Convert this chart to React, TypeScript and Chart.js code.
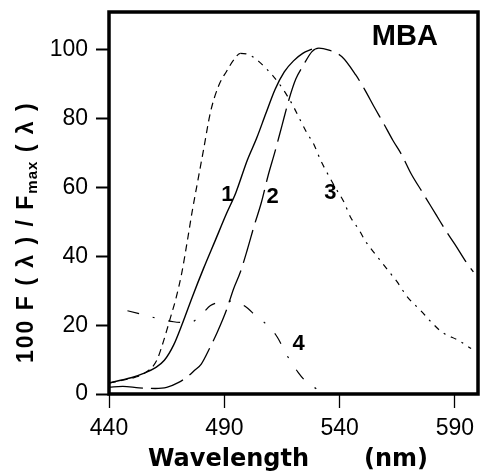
import React, { useEffect, useRef } from "react";
import { Chart, registerables } from "chart.js";

Chart.register(...registerables);

// ---- axis set-up ----
const xTickValues = [440, 490, 540, 590];
const yTickValues = [0, 20, 40, 60, 80, 100];
const xMin = 440;
const xMax = 600;
const yMin = 0;
const yMax = 111;

// ---- curve 1 (solid) ----
const curve1X = [440, 445, 450, 455, 460, 464, 468, 472, 476, 481, 486, 491, 495, 500, 504, 508, 512, 516, 520, 524, 528];
const curve1Y = [3.2, 4.0, 4.8, 6.0, 7.6, 9.8, 14.2, 20.8, 28, 36.5, 44.5, 52.5, 58.5, 68, 74.3, 81.5, 88.5, 93.6, 96.8, 99, 100.2];

// ---- curve 2 (long dash) ----
const curve2X = [440, 446, 453, 460, 465, 470, 474, 477, 480, 484, 487, 491, 494, 497, 500, 503, 506, 509, 512, 515, 518, 521, 524, 528, 531, 535, 541, 547, 551, 555, 559, 563, 567, 571, 576, 582, 586, 590, 595, 598];
const curve2Y = [2, 2.2, 1.8, 1.6, 1.9, 3.3, 5, 6.8, 8.7, 13.8, 18, 24.5, 30.5, 35.5, 42, 49, 55.5, 63.5, 70.5, 78, 85.5, 91.5, 95.2, 99.5, 100.5, 100, 98, 92.7, 88.3, 83.4, 78.7, 73.8, 69.4, 64, 58.5, 51.9, 47.5, 43.5, 38.2, 35.5];

// ---- curve 3 (short dash rising, dash-dot falling) ----
const curve3X = [440, 446, 452, 456, 459, 461, 463, 465, 467, 469, 471.5, 474, 476, 478.3, 481, 484, 487.5, 491, 494, 497, 501, 506, 511, 515, 519.6, 522.6, 525.7, 529, 531.7, 534.8, 538.3, 541.7, 544.8, 548.3, 551.3, 556, 560.4, 564.8, 569.6, 574.8, 579.6, 584.3, 591.7, 597];
const curve3Y = [3.2, 4, 5, 6.3, 8, 10.2, 14, 18.4, 23, 27.7, 35, 44.6, 52.8, 61.2, 71, 81.9, 89.5, 93.8, 97, 99, 98.5, 96, 92.5, 89, 84, 80, 76, 72.3, 68, 64, 59.8, 56, 51.3, 47.8, 44.3, 40.2, 36.4, 32.7, 28, 24.5, 21, 18, 15.5, 13.2];
const curve3PeakX = 497;

// ---- curve 4 (dash-dot-dot) ----
const curve4X = [448, 455, 462, 468, 475, 480, 484, 489, 494, 499, 504, 509, 513, 517, 522, 526, 530];
const curve4Y = [24.2, 23, 21.8, 21, 20.7, 23, 25.7, 26.8, 27, 25.5, 22.5, 19.8, 16.5, 11.4, 6.3, 3.2, 1.5];

// ---- in-plot labels ----
const curveLabels = ["1", "2", "3", "4"];
const curveLabelX = [491.3, 510.9, 536, 522.2];
const curveLabelY = [57.7, 57.4, 58.3, 14.6];
const panelLabel = "MBA";
const panelLabelX = 568.3;
const panelLabelY = 103.8;

const xTitleWord = "Wavelength";
const xTitleUnit = "(nm)";
const yTitleMain = "100 F ( λ ) / F";
const yTitleSub = "max";
const yTitleEnd = " ( λ )";

const pairs = (xs: number[], ys: number[]) => xs.map((x, i) => ({ x, y: ys[i] }));

const annotate = {
  id: "annotate",
  afterDraw(chart: any) {
    const { ctx, chartArea: a, scales } = chart;
    ctx.save();
    // frame
    ctx.strokeStyle = "#000";
    ctx.lineWidth = 3.5;
    ctx.strokeRect(a.left, a.top, a.right - a.left, a.bottom - a.top);

    ctx.fillStyle = "#000";
    ctx.textAlign = "center";
    ctx.textBaseline = "middle";
    ctx.font = "bold 22px 'Liberation Sans', Arial, sans-serif";
    curveLabels.forEach((t, i) => {
      ctx.fillText(t, scales.x.getPixelForValue(curveLabelX[i]), scales.y.getPixelForValue(curveLabelY[i]));
    });
    ctx.font = "bold 29px 'Liberation Sans', Arial, sans-serif";
    ctx.fillText(panelLabel, scales.x.getPixelForValue(panelLabelX), scales.y.getPixelForValue(panelLabelY));

    // x title
    ctx.font = "bold 24px 'DejaVu Sans', sans-serif";
    ctx.textAlign = "left";
    ctx.textBaseline = "alphabetic";
    ctx.fillText(xTitleWord, a.left + 39, a.bottom + 72);
    ctx.fillText(xTitleUnit, a.left + 255, a.bottom + 72);

    // y title (rotated)
    ctx.translate(32.5, a.bottom - 31);
    ctx.rotate(-Math.PI / 2);
    let pos = 0;
    ctx.font = "bold 23px 'Liberation Sans', Arial, sans-serif";
    (ctx as any).letterSpacing = "2px";
    ctx.fillText(yTitleMain, pos, 0);
    pos += ctx.measureText(yTitleMain).width;
    ctx.font = "bold 15px 'Liberation Sans', Arial, sans-serif";
    (ctx as any).letterSpacing = "1px";
    ctx.fillText(yTitleSub, pos, 4);
    pos += ctx.measureText(yTitleSub).width;
    ctx.font = "bold 23px 'Liberation Sans', Arial, sans-serif";
    (ctx as any).letterSpacing = "2px";
    ctx.fillText(yTitleEnd, pos, 0);
    ctx.restore();
  },
};

const lineDs = (xs: number[], ys: number[], dash: number[], width: number, extra: any = {}) => ({
  data: pairs(xs, ys),
  borderColor: "#000",
  borderWidth: width,
  borderDash: dash,
  pointRadius: 0,
  fill: false,
  cubicInterpolationMode: "monotone" as const,
  ...extra,
});

export default function App() {
  const ref = useRef<HTMLCanvasElement | null>(null);
  useEffect(() => {
    if (!ref.current) return;
    const chart = new Chart(ref.current, {
      type: "line",
      data: {
        datasets: [
          lineDs(curve1X, curve1Y, [], 1.4),
          lineDs(curve2X, curve2Y, [34, 8], 1.3),
          lineDs(curve3X, curve3Y, [6, 6, 2, 6], 1.2, {
            segment: {
              borderDash: (c: any) => (c.p0.parsed.x < curve3PeakX ? [7, 5] : [6, 6, 2, 6]),
            },
          }),
          lineDs(curve4X, curve4Y, [12, 14, 2, 14], 1.2),
        ],
      },
      options: {
        animation: false,
        responsive: false,
        layout: { padding: { top: 12, right: 4, left: 0, bottom: 0 } },
        plugins: { legend: { display: false }, tooltip: { enabled: false } },
        scales: {
          x: {
            type: "linear",
            min: xMin,
            max: xMax,
            afterBuildTicks: (s: any) => {
              s.ticks = xTickValues.map((v) => ({ value: v }));
            },
            afterFit: (s: any) => {
              s.height = 78;
              s.paddingLeft = 0;
              s.paddingRight = 0;
            },
            ticks: {
              color: "#000",
              font: { family: "'Liberation Sans', Arial, sans-serif", size: 23 },
              padding: 7,
              maxRotation: 0,
              autoSkip: false,
            },
            grid: { drawOnChartArea: false, drawTicks: true, tickLength: 14, tickColor: "#000", tickWidth: 1.3 },
            border: { display: false },
          },
          y: {
            type: "linear",
            min: yMin,
            max: yMax,
            afterBuildTicks: (s: any) => {
              s.ticks = yTickValues.map((v) => ({ value: v }));
            },
            afterFit: (s: any) => {
              s.width = 109;
              s.paddingTop = 0;
              s.paddingBottom = 0;
            },
            ticks: {
              color: "#000",
              font: { family: "'Liberation Sans', Arial, sans-serif", size: 23 },
              padding: 8,
            },
            grid: { drawOnChartArea: false, drawTicks: true, tickLength: 13, tickColor: "#000", tickWidth: 2 },
            border: { display: false },
          },
        },
      },
      plugins: [annotate],
    });
    return () => chart.destroy();
  }, []);
  return (
    <div style={{ position: "fixed", left: 0, top: 0, width: 482, height: 472, background: "#fff" }}>
      <canvas ref={ref} width={482} height={472} style={{ display: "block" }} />
    </div>
  );
}
